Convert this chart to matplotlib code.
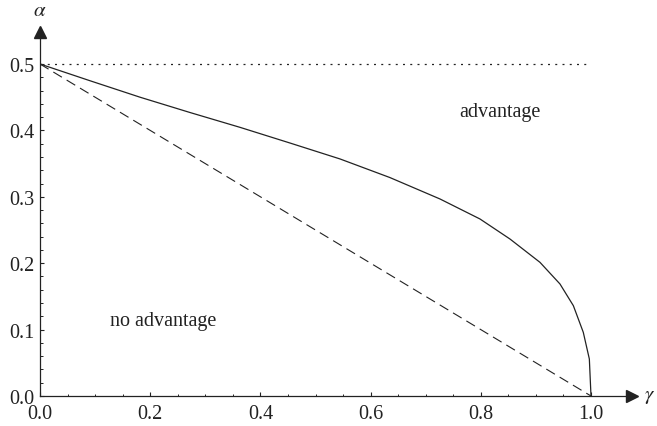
import numpy as np
import matplotlib
matplotlib.use('Agg')
from matplotlib import pyplot as plt
from matplotlib.ticker import FixedLocator

# values
gamma_curve = [0.0, 0.0907, 0.1815, 0.272, 0.363, 0.4537, 0.5445, 0.635,
               0.726, 0.7985, 0.853, 0.9074, 0.9437, 0.968, 0.986, 0.997, 1.0]
alpha_curve = [0.5, 0.4748, 0.450, 0.427, 0.4046, 0.381, 0.357, 0.329,
               0.2967, 0.2666, 0.2364, 0.2013, 0.1687, 0.136, 0.0959, 0.0557, 0.0]
gamma_dash = [0.0, 1.0]
alpha_dash = [0.5, 0.0]
gamma_dot = [0.0, 1.0]
alpha_dot = [0.5, 0.5]

x_ticks = [0.0, 0.2, 0.4, 0.6, 0.8, 1.0]
y_ticks = [0.0, 0.1, 0.2, 0.3, 0.4, 0.5]

ink = '#222222'
plt.rcParams['font.family'] = ['Liberation Serif', 'DejaVu Serif']
plt.rcParams['mathtext.fontset'] = 'stix'

fig = plt.figure(figsize=(6.57, 4.27), dpi=100)
ax = fig.add_axes([40 / 657, 30 / 427, 592 / 657, 364 / 427])

ax.plot(gamma_curve, alpha_curve, color=ink, lw=0.9)
ax.plot(gamma_dash, alpha_dash, color=ink, lw=0.8, linestyle=(0, (9, 5)))
ax.plot(gamma_dot, alpha_dot, color=ink, lw=0.9, linestyle=(0, (1.6, 4.2)))

ax.set_xlim(0, 592 / 551)
ax.set_ylim(0, 364 / 664)

for side in ['top', 'right']:
    ax.spines[side].set_visible(False)
for side in ['left', 'bottom']:
    ax.spines[side].set_color(ink)
    ax.spines[side].set_linewidth(0.9)

# arrow heads at the axis ends
ax.plot(1, 0, '>', color=ink, ms=9, transform=ax.get_yaxis_transform(), clip_on=False)
ax.plot(0, 1, '^', color=ink, ms=9, transform=ax.get_xaxis_transform(), clip_on=False)

ax.set_xticks(x_ticks)
ax.set_yticks(y_ticks)
ax.set_xticklabels(['%.1f' % t for t in x_ticks])
ax.set_yticklabels(['%.1f' % t for t in y_ticks])
ax.xaxis.set_minor_locator(FixedLocator(
    [t for t in np.arange(0.05, 1.0, 0.05) if abs(t / 0.2 - round(t / 0.2)) > 1e-6]))
ax.yaxis.set_minor_locator(FixedLocator(
    [t for t in np.arange(0.02, 0.5, 0.02) if abs(t / 0.1 - round(t / 0.1)) > 1e-6]))
ax.tick_params(which='major', direction='in', length=3.2, width=0.8, color=ink,
               labelsize=14.5, labelcolor=ink)
ax.tick_params(axis='x', which='major', pad=6)
ax.tick_params(axis='y', which='major', pad=4)
ax.tick_params(which='minor', direction='in', length=1.8, width=0.7, color=ink)

ax.text(0.835, 0.428, 'advantage', ha='center', va='center', fontsize=14.5, color=ink)
ax.text(0.223, 0.113, 'no advantage', ha='center', va='center', fontsize=14.5, color=ink)

fig.text(40 / 657, 1 - 12 / 427, r'$\alpha$', ha='center', va='center', fontsize=15, color=ink)
fig.text(650 / 657, 30 / 427, r'$\gamma$', ha='center', va='center', fontsize=15, color=ink)

fig.savefig('out.png', dpi=100)
